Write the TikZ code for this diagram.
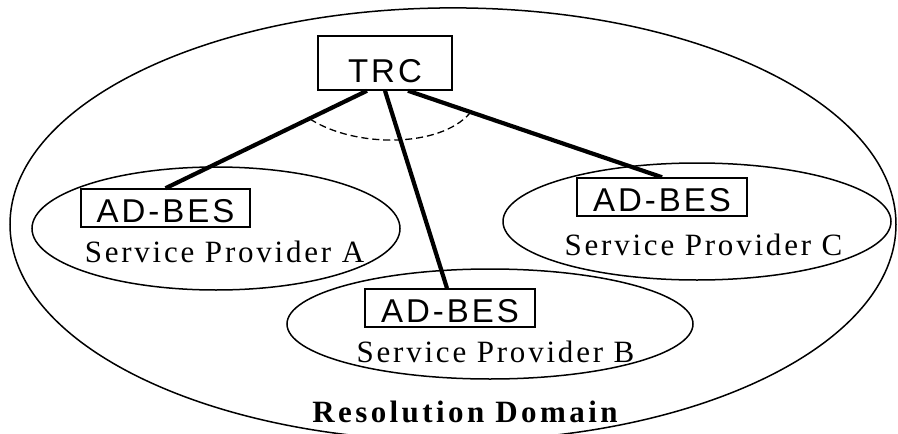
\documentclass[tikz,border=0pt]{standalone}
\usepackage{fontspec}
\usetikzlibrary{shapes.geometric}
\newfontfamily\arialsp[LetterSpace=9]{Liberation Sans}
\newfontfamily\timessp[LetterSpace=9]{Liberation Serif}
\newfontfamily\timesbsp[LetterSpace=11]{Liberation Serif}
\tikzset{
  thinline/.style={line width=1.5pt},
  thickline/.style={line width=4.2pt},
  domellipse/.style={draw, thinline, ellipse, inner sep=0pt},
  boxnode/.style={draw, thinline, rectangle, inner sep=0pt, text depth=0pt,
    font=\arialsp\fontsize{33}{39}\selectfont},
  spname/.style={anchor=base, inner sep=0pt, font=\timessp\fontsize{31}{37}\selectfont},
  domname/.style={anchor=base, inner sep=0pt, font=\timesbsp\bfseries\fontsize{31}{37}\selectfont}
}
\begin{document}
\begin{tikzpicture}[x=1pt, y=-1pt]
\useasboundingbox (0,0) rectangle (898,434);
\clip (0,0) rectangle (898,434);
\fill[white] (0,0) rectangle (898,434);
% outer domain
\node[domellipse, minimum width=886pt, minimum height=433pt] (outer) at (453,224.4) {};
% provider ellipses
\node[domellipse, minimum width=368pt, minimum height=123pt] (ellA) at (216,228.5) {};
\node[domellipse, minimum width=406pt, minimum height=110pt] (ellB) at (490,324) {};
\node[domellipse, minimum width=388pt, minimum height=117pt] (ellC) at (697,221.5) {};
% boxes
\node[boxnode, minimum width=134pt, minimum height=54pt, text height=38pt] (trc) at (385,63) {TRC};
\node[boxnode, minimum width=169pt, minimum height=38pt, text height=29pt] (adA) at (165.5,208) {AD-BES};
\node[boxnode, minimum width=170pt, minimum height=38pt, text height=29pt] (adB) at (450,308) {AD-BES};
\node[boxnode, minimum width=170pt, minimum height=38pt, text height=29pt] (adC) at (662,197) {AD-BES};
% labels
\node[spname] (labA) at (224.5,262) {Service Provider A};
\node[spname] (labB) at (495.5,362) {Service Provider B};
\node[spname] (labC) at (703.5,255) {Service Provider C};
\node[domname] (labD) at (465,422) {Resolution Domain};
% connectors
\draw[thickline] ([xshift=-18pt]trc.south) -- (adA.north);
\draw[thickline] (trc.south) -- ([xshift=-3pt]adB.north);
\draw[thickline] ([xshift=23pt]trc.south) -- (adC.north);
% dashed arc
\draw[line width=1.3pt, dash pattern=on 7pt off 4pt] (310,119) .. controls (355,148) and (440,148) .. (470,113);
\end{tikzpicture}
\end{document}
